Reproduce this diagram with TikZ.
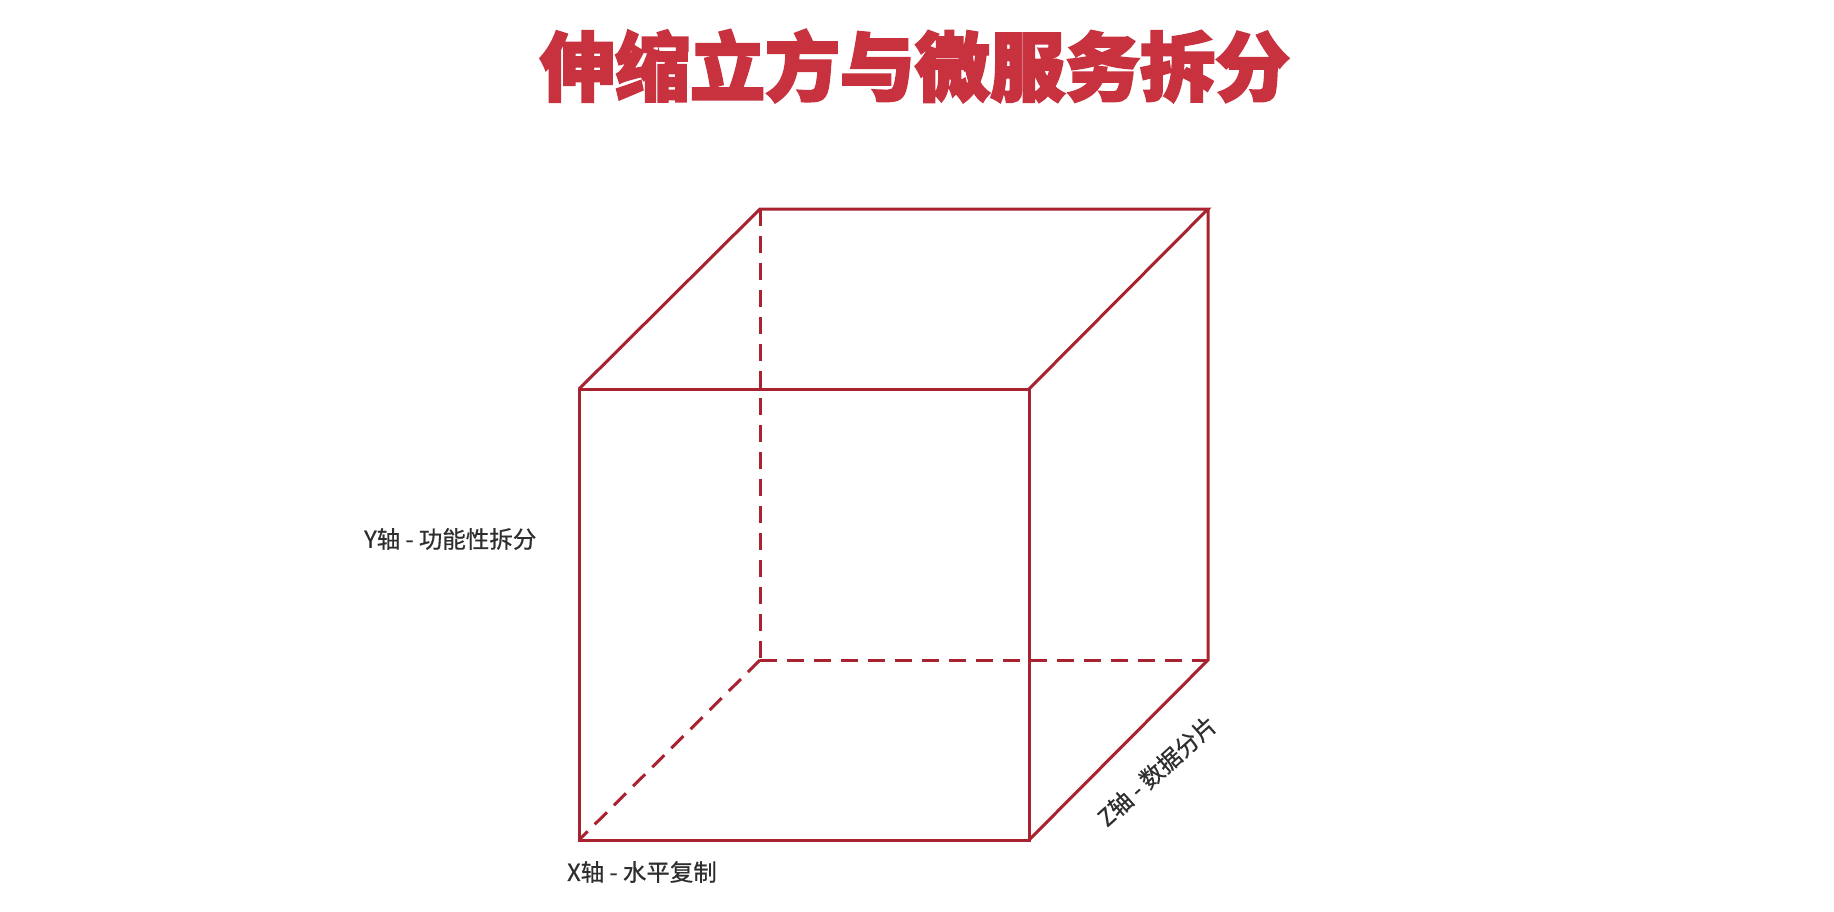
\documentclass[tikz,border=0pt]{standalone}
\usepackage{fontspec}
\newfontfamily\cjk{Noto Sans CJK SC}[FakeBold=0.6]
\newfontfamily\cjkbold{Noto Sans CJK SC}[BoldFeatures={FakeBold=3}]
\definecolor{cubered}{HTML}{A8222F}
\definecolor{titlered}{HTML}{C8323F}
\definecolor{labelgray}{HTML}{2E2E2E}
\begin{document}
\begin{tikzpicture}[x=1pt,y=-1pt,
  edge/.style={draw=cubered,line width=3pt,line join=miter},
  hidden/.style={edge,dash pattern=on 17pt off 10pt},
  axislabel/.style={text=labelgray,font=\cjk\fontsize{23.5}{26}\selectfont,inner sep=0pt},
  titlestyle/.style={text=titlered,font=\cjkbold\bfseries\fontsize{75}{80}\selectfont,inner sep=0pt}]
\useasboundingbox (0,0) rectangle (1834,911);
\fill[white] (0,0) rectangle (1834,911);
% front face corners
\coordinate (ftl) at (579,389);
\coordinate (ftr) at (1029,389);
\coordinate (fbl) at (579,840);
\coordinate (fbr) at (1029,840);
% back face corners
\coordinate (btl) at (760,209);
\coordinate (btr) at (1208,209);
\coordinate (bbl) at (760,660);
\coordinate (bbr) at (1208,660);
% hidden edges
\draw[hidden] (btl) -- (bbl);
\draw[hidden] (bbl) -- (bbr);
\draw[hidden] (bbl) -- (fbl);
% visible edges
\draw[edge] (ftl) -- (ftr) -- (fbr) -- (fbl) -- cycle;
\draw[edge] (ftl) -- (btl) -- (btr) -- (ftr);
\draw[edge] (btr) -- (bbr) -- (fbr);
% title
\node[titlestyle] (title) at (915,66) {伸缩立方与微服务拆分};
% labels
\node[axislabel,anchor=west] (ylab) at (364,539) {Y轴 - 功能性拆分};
\node[axislabel,anchor=west] (xlab) at (567,872) {X轴 - 水平复制};
\node[axislabel,rotate=42] (zlab) at (1157,771) {Z轴 - 数据分片};
\end{tikzpicture}
\end{document}
